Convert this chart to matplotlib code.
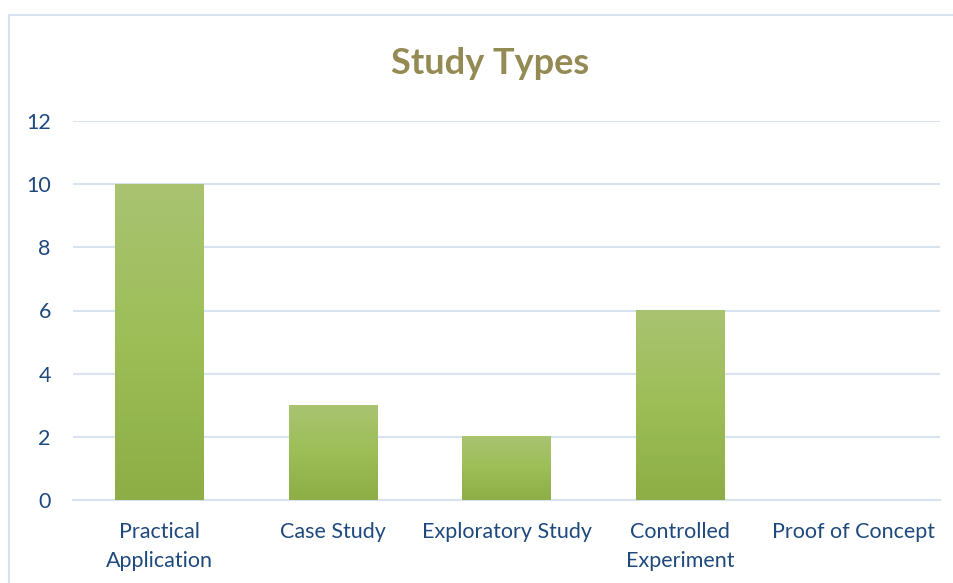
import matplotlib
matplotlib.use("Agg")
import matplotlib.pyplot as plt
import numpy as np
from matplotlib.colors import LinearSegmentedColormap
from matplotlib.patches import Rectangle

categories = ["Practical\nApplication", "Case Study", "Exploratory Study",
              "Controlled\nExperiment", "Proof of Concept"]
counts = [10, 3, 2, 6, 0]
y_ticks = [0, 2, 4, 6, 8, 10, 12]

title_color = "#948A54"
label_color = "#1F497D"
grid_color = "#D9E2F1"
bar_cmap = LinearSegmentedColormap.from_list(
    "green_fade", ["#8CAE45", "#9DBE57", "#A9C371"])

plt.rcParams["font.family"] = ["Lato", "DejaVu Sans"]

fig = plt.figure(figsize=(9.54, 5.83), dpi=100)
fig.patch.set_facecolor("white")

# outer chart frame (runs off the right and bottom edges)
frame = Rectangle((9 / 954, -0.5), 2.0, 1 - 15 / 583 + 0.5,
                  transform=fig.transFigure, fill=False,
                  edgecolor=grid_color, linewidth=1.5, clip_on=False)
fig.add_artist(frame)

ax = fig.add_axes([73 / 954, 1 - 500 / 583, (940 - 73) / 954, (500 - 121) / 583])
x = np.arange(len(categories))
bars = ax.bar(x, counts, width=0.51, color="none", edgecolor="none", zorder=3)

# vertical gradient fill for each bar
grad = np.linspace(0, 1, 256).reshape(-1, 1)
for rect in bars:
    h = rect.get_height()
    if h <= 0:
        continue
    x0 = rect.get_x()
    ax.imshow(grad, cmap=bar_cmap, origin="lower", aspect="auto",
              extent=(x0, x0 + rect.get_width(), 0, h), zorder=3,
              interpolation="bilinear")

ax.set_xlim(-0.5, len(categories) - 0.5)
ax.set_ylim(0, 12)
ax.set_yticks(y_ticks)
ax.set_xticks(x)
ax.set_xticklabels(categories, fontsize=15.5, color=label_color, linespacing=1.55)
ax.tick_params(axis="y", labelsize=15.5, labelcolor=label_color, length=0, pad=16)
ax.tick_params(axis="x", length=0, pad=16)
ax.grid(axis="y", color=grid_color, linewidth=1.5, zorder=0)
ax.set_axisbelow(True)
for s in ["top", "right", "left"]:
    ax.spines[s].set_visible(False)
ax.spines["bottom"].set_color(grid_color)
ax.spines["bottom"].set_linewidth(1.5)

fig.text(490 / 954, 1 - 63 / 583, "Study Types", ha="center", va="center",
         fontsize=26, fontweight="bold", color=title_color)

fig.savefig("out.png", dpi=100)
